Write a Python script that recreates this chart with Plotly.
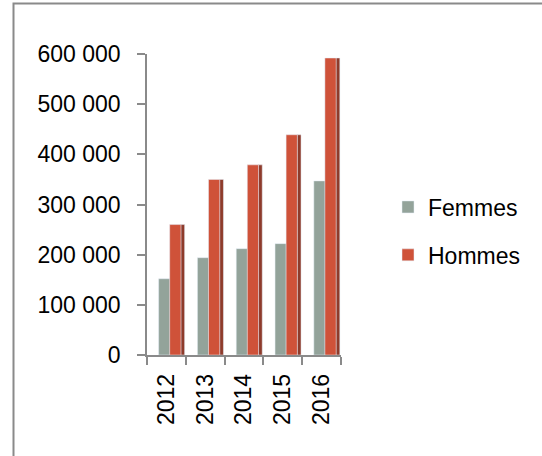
import plotly.graph_objects as go

years = ["2012", "2013", "2014", "2015", "2016"]
femmes = [152000, 194000, 212000, 222000, 347000]
hommes = [260000, 350000, 379000, 439000, 592000]

FONT = "Liberation Sans, Arial, sans-serif"

fig = go.Figure()
# darker side face of the 3D-looking "Hommes" columns
fig.add_trace(go.Bar(name="Hommes side", x=years, y=hommes, marker_color="#8E3B2B",
                     width=0.1, offset=0.37, showlegend=False, hoverinfo="skip"))
fig.add_trace(go.Bar(name="Femmes", x=years, y=femmes, marker_color="#93A39A",
                     width=0.29, offset=-0.2, legendgroup="f"))
fig.add_trace(go.Bar(name="Hommes", x=years, y=hommes, marker_color="#CF5239",
                     width=0.29, offset=0.085, legendgroup="h"))

W, H = 542, 456
L, R, T, B = 147, 201, 54, 101
pw, ph = W - L - R, H - T - B

def px(x):
    return (x - L) / pw

def py(y):
    return (H - B - y) / ph

fig.update_layout(
    width=W, height=H,
    margin=dict(l=L, r=R, t=T, b=B),
    paper_bgcolor="white", plot_bgcolor="white",
    barmode="overlay",
    separators=", ",
    font=dict(family=FONT, size=23, color="black"),
    showlegend=True,
    legend=dict(x=px(388), y=py(231), xanchor="left", yanchor="middle",
                tracegroupgap=15, font=dict(size=23),
                bgcolor="rgba(0,0,0,0)"),
    shapes=[dict(type="rect", xref="paper", yref="paper",
                 x0=px(13.5), x1=px(560), y0=py(3.5), y1=py(470),
                 line=dict(color="#8a8a8a", width=2), fillcolor="rgba(0,0,0,0)",
                 layer="below")],
)
fig.update_yaxes(range=[0, 600000], tickvals=[0, 100000, 200000, 300000, 400000, 500000, 600000],
                 tickformat=",d", showgrid=False, zeroline=False,
                 showline=True, linecolor="#8a8a8a", linewidth=1.5,
                 ticks="outside", ticklen=8, tickcolor="#8a8a8a", tickwidth=1.5,
                 ticklabelstandoff=12, tickfont=dict(size=23))
fig.update_xaxes(showline=True, linecolor="#8a8a8a", linewidth=1.5,
                 ticks="outside", ticklen=8, tickcolor="#8a8a8a", tickwidth=1.5,
                 tickson="boundaries", tickangle=-90, showgrid=False,
                 ticklabelstandoff=8, tickfont=dict(size=23))

fig.write_html("out.html", config={"displayModeBar": False},
               post_script="document.body.style.margin='0';")
